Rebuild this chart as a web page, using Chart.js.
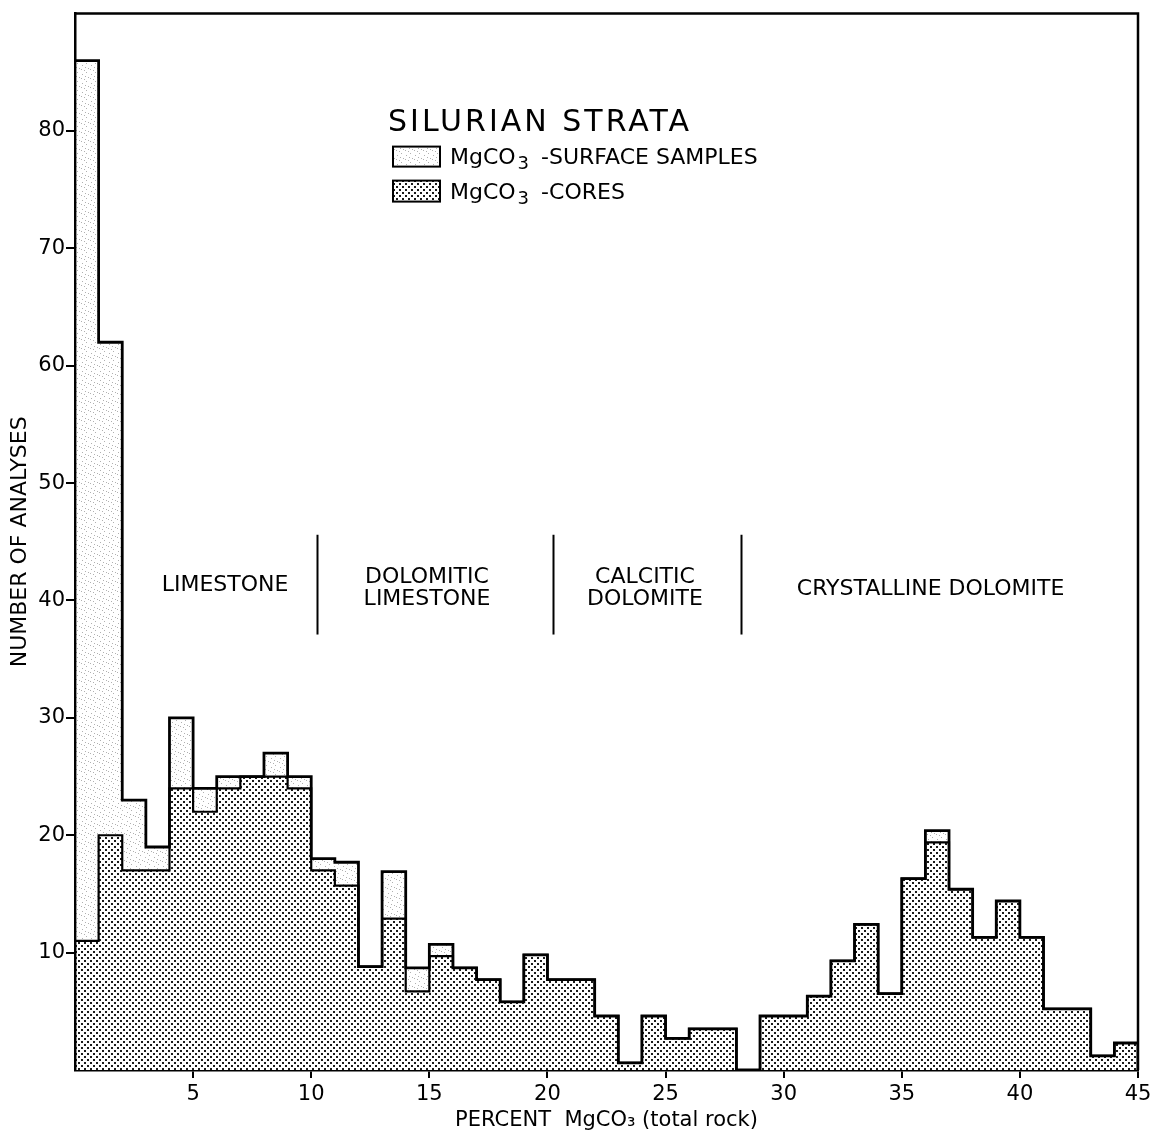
<!DOCTYPE html>
<html>
<head>
<meta charset="utf-8">
<title>Silurian strata – MgCO3 histogram</title>
<script src="https://cdn.jsdelivr.net/npm/chart.js@4.4.1/dist/chart.umd.min.js"></script>
<style>
  html, body { margin: 0; padding: 0; background: #ffffff; }
  #wrap { width: 1156px; height: 1136px; }
</style>
</head>
<body>
<div id="wrap"><canvas id="chart" width="1156" height="1136"></canvas></div>
<script>
// Lower edge of each 1 % MgCO3 class
const binStarts = [0, 1, 2, 3, 4, 5, 6, 7, 8, 9,
                   10, 11, 12, 13, 14, 15, 16, 17, 18, 19,
                   20, 21, 22, 23, 24, 25, 26, 27, 28, 29,
                   30, 31, 32, 33, 34, 35, 36, 37, 38, 39,
                   40, 41, 42, 43, 44];

// Number of analyses from cores in each class
const coreSamples = [11, 20, 17, 17, 24, 22, 24, 25, 25, 24,
                     17, 15.7, 8.8, 12.9, 6.7, 9.7, 8.7, 7.7, 5.8, 9.8,
                     7.7, 7.7, 4.6, 0.6, 4.6, 2.7, 3.5, 3.5, 0, 4.6,
                     4.6, 6.3, 9.3, 12.4, 6.5, 16.3, 19.4, 15.4, 11.3, 14.4,
                     11.3, 5.2, 5.2, 1.2, 2.3];

// Additional analyses from surface samples, stacked on top of the cores
const surfaceSamples = [75, 42, 6, 2, 6, 2, 1, 0, 2, 1,
                        1, 2, 0, 4, 2, 1, 0, 0, 0, 0,
                        0, 0, 0, 0, 0, 0, 0, 0, 0, 0,
                        0, 0, 0, 0, 0, 0, 1, 0, 0, 0,
                        0, 0, 0, 0, 0];

const xTickValues = [5, 10, 15, 20, 25, 30, 35, 40, 45];
const yTickValues = [10, 20, 30, 40, 50, 60, 70, 80];

const rockClasses = [
  ['LIMESTONE'],
  ['DOLOMITIC', 'LIMESTONE'],
  ['CALCITIC', 'DOLOMITE'],
  ['CRYSTALLINE DOLOMITE']
];

const seriesNames = ['SURFACE SAMPLES', 'CORES'];

const FONT = "'DejaVu Sans', 'Liberation Sans', sans-serif";

// ---- fill patterns -------------------------------------------------------
function makeDotPattern() {
  const c = document.createElement('canvas');
  c.width = 6; c.height = 6;
  const g = c.getContext('2d');
  g.fillStyle = '#ffffff';
  g.fillRect(0, 0, 6, 6);
  g.fillStyle = '#1a1a1a';
  g.fillRect(0, 0, 2, 2);
  g.fillRect(3, 3, 2, 2);
  return g.createPattern(c, 'repeat');
}

function makeSpeckPattern() {
  const c = document.createElement('canvas');
  c.width = 9; c.height = 9;
  const g = c.getContext('2d');
  g.fillStyle = '#ffffff';
  g.fillRect(0, 0, 9, 9);
  g.fillStyle = '#b0b0b0';
  [[1, 2], [5, 0], [7, 5], [3, 7], [4, 4], [0, 6]].forEach(([x, y]) => g.fillRect(x, y, 1, 1));
  return g.createPattern(c, 'repeat');
}

const dotFill = makeDotPattern();
const speckFill = makeSpeckPattern();

// ---- derived series --------------------------------------------------------
const totals = coreSamples.map((v, i) => v + surfaceSamples[i]);
const lastEdge = binStarts[binStarts.length - 1] + 1;

// histogram outline: horizontal across each class, vertical at class edges
function stepOutline(values) {
  const pts = [{ x: binStarts[0], y: 0 }];
  binStarts.forEach((b, i) => pts.push({ x: b, y: values[i] }));
  pts.push({ x: lastEdge, y: values[values.length - 1] });
  pts.push({ x: lastEdge, y: 0 });
  return pts;
}

// "MgCO3" with a lowered subscript, followed by a label
function drawFormulaLabel(ctx, x, base, size, rest) {
  ctx.font = size + 'px ' + FONT;
  ctx.fillText('MgCO', x, base);
  let cx = x + ctx.measureText('MgCO').width + 2;
  ctx.font = Math.round(size * 0.8) + 'px ' + FONT;
  ctx.fillText('3', cx, base + 5);
  cx += ctx.measureText('3').width + 12;
  ctx.font = size + 'px ' + FONT;
  ctx.fillText('-' + rest, cx, base);
}

// ---- annotation layer: frame, legend block, rock-class labels -------------
const annotationLayer = {
  id: 'annotationLayer',
  afterDatasetsDraw(chart) {
    const { ctx, chartArea: a, scales: { x, y } } = chart;
    ctx.save();

    // frame on top and right
    ctx.strokeStyle = '#000';
    ctx.lineWidth = 2.5;
    ctx.beginPath();
    ctx.moveTo(a.left, a.top);
    ctx.lineTo(a.right, a.top);
    ctx.lineTo(a.right, a.bottom);
    ctx.stroke();

    // legend block
    const lx = a.left + 313, ly = a.top;
    ctx.fillStyle = '#000';
    ctx.textAlign = 'left';
    ctx.textBaseline = 'alphabetic';
    ctx.font = '30px ' + FONT;
    ctx.letterSpacing = '3px';
    ctx.fillText('SILURIAN STRATA', lx, ly + 117);
    ctx.letterSpacing = '0px';

    const boxes = [
      { fill: speckFill, top: ly + 133, h: 20, base: ly + 150, label: seriesNames[0] },
      { fill: dotFill, top: ly + 167, h: 21, base: ly + 185, label: seriesNames[1] }
    ];
    boxes.forEach(b => {
      ctx.fillStyle = b.fill;
      ctx.fillRect(lx + 5, b.top, 47, b.h);
      ctx.lineWidth = 2;
      ctx.strokeStyle = '#000';
      ctx.strokeRect(lx + 5, b.top, 47, b.h);
      ctx.fillStyle = '#000';
      drawFormulaLabel(ctx, lx + 62, b.base, 22, b.label);
    });

    // rock-class dividers
    ctx.lineWidth = 2;
    [10.23, 20.22, 28.2].forEach(v => {
      const px = Math.round(x.getPixelForValue(v)) + 0.5;
      ctx.beginPath();
      ctx.moveTo(px, y.getPixelForValue(45.6));
      ctx.lineTo(px, y.getPixelForValue(37.1));
      ctx.stroke();
    });

    // rock-class names
    const anchors = [
      { x: 6.35, y: 40.8 },
      { x: 14.9, y: 41.5 },
      { x: 24.13, y: 41.5 },
      { x: 36.22, y: 40.5 }
    ];
    ctx.font = '22px ' + FONT;
    ctx.textAlign = 'center';
    rockClasses.forEach((lines, i) => {
      const cx = x.getPixelForValue(anchors[i].x);
      const by = y.getPixelForValue(anchors[i].y);
      lines.forEach((t, k) => ctx.fillText(t, cx, by + k * 22));
    });

    ctx.restore();
  }
};

const ctx = document.getElementById('chart').getContext('2d');

new Chart(ctx, {
  data: {
    datasets: [
      {
        type: 'line',
        label: 'total outline',
        data: stepOutline(totals),
        stepped: 'before',
        borderColor: '#000',
        borderWidth: 2.8,
        pointRadius: 0,
        fill: false,
        stack: 'outlineTotal',
        order: 0
      },
      {
        type: 'line',
        label: 'core outline',
        data: stepOutline(coreSamples),
        stepped: 'before',
        borderColor: '#000',
        borderWidth: 2.2,
        pointRadius: 0,
        fill: false,
        stack: 'outlineCores',
        order: 1
      },
      {
        type: 'bar',
        label: 'MgCO₃ - ' + seriesNames[1],
        data: binStarts.map((b, i) => ({ x: b + 0.5, y: coreSamples[i] })),
        backgroundColor: dotFill,
        borderWidth: 0,
        barPercentage: 1,
        categoryPercentage: 1,
        stack: 'hist',
        order: 2
      },
      {
        type: 'bar',
        label: 'MgCO₃ - ' + seriesNames[0],
        data: binStarts.map((b, i) => ({ x: b + 0.5, y: surfaceSamples[i] })),
        backgroundColor: speckFill,
        borderWidth: 0,
        inflateAmount: 0,
        barPercentage: 1,
        categoryPercentage: 1,
        stack: 'hist',
        order: 3
      }
    ]
  },
  options: {
    responsive: false,
    animation: false,
    devicePixelRatio: 1,
    layout: { padding: { top: 10, right: 18, left: 0, bottom: 0 } },
    plugins: {
      legend: { display: false },
      tooltip: { enabled: false }
    },
    scales: {
      x: {
        type: 'linear',
        min: 0,
        max: 45,
        offset: false,
        afterBuildTicks: s => { s.ticks = xTickValues.map(v => ({ value: v })); },
        afterFit: s => { s.height = 66; },
        grid: { offset: false, drawOnChartArea: false, drawTicks: true, tickLength: 8, color: '#000', lineWidth: 2 },
        border: { display: true, color: '#000', width: 2.5 },
        ticks: { color: '#000', padding: 4, maxRotation: 0, font: { family: FONT, size: 21 } },
        title: {
          display: true,
          text: 'PERCENT  MgCO₃ (total rock)',
          color: '#000',
          font: { family: FONT, size: 21 },
          padding: { top: 0, bottom: 3 }
        }
      },
      y: {
        type: 'linear',
        min: 0,
        max: 90,
        stacked: true,
        afterBuildTicks: s => { s.ticks = yTickValues.map(v => ({ value: v })); },
        afterFit: s => { s.width = 75; },
        grid: { drawOnChartArea: false, drawTicks: true, tickLength: 9, color: '#000', lineWidth: 2 },
        border: { display: true, color: '#000', width: 2.5 },
        ticks: { color: '#000', padding: 1, font: { family: FONT, size: 21 } },
        title: {
          display: true,
          text: 'NUMBER OF ANALYSES',
          color: '#000',
          font: { family: FONT, size: 22 },
          padding: { top: 7, bottom: 0 }
        }
      }
    }
  },
  plugins: [annotationLayer]
});
</script>
</body>
</html>
